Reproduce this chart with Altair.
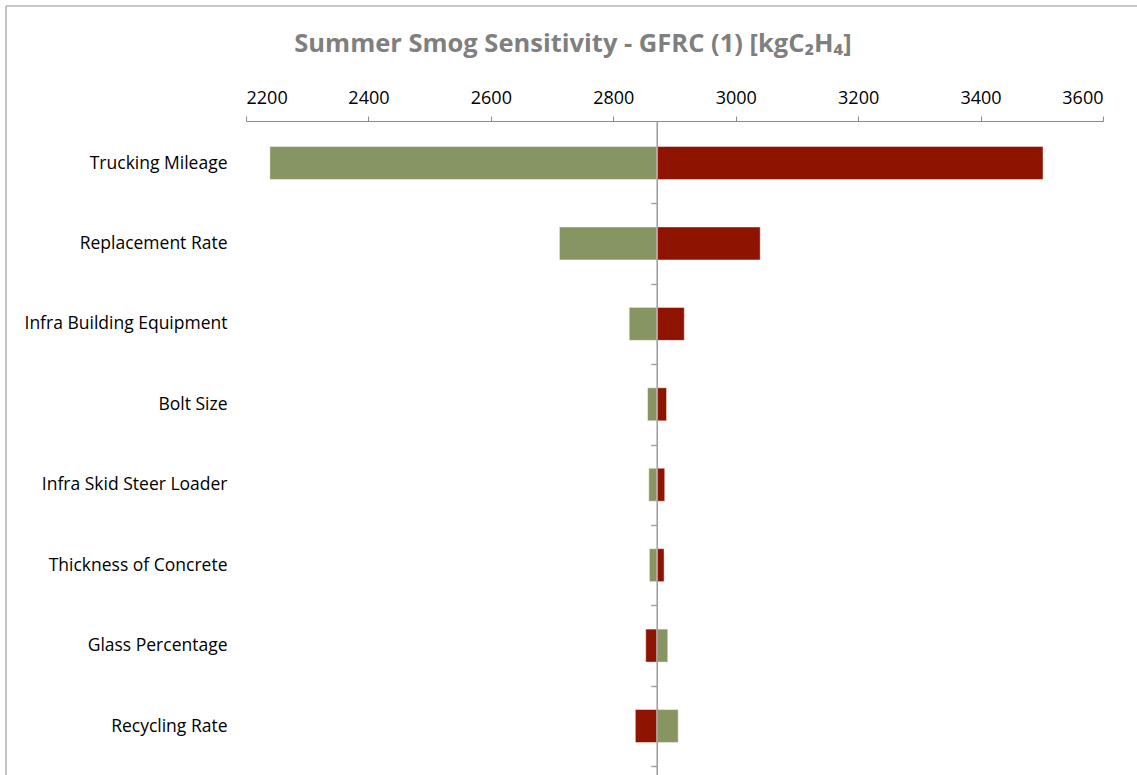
import altair as alt
import pandas as pd

# Sensitivity inputs, top to bottom
categories = [
    "Trucking Mileage",
    "Replacement Rate",
    "Infra Building Equipment",
    "Bolt Size ",
    "Infra Skid Steer Loader",
    "Thickness of Concrete",
    "Glass Percentage",
    "Recycling Rate",
]
# Baseline result [kgC2H4]
base_value = 2871
# Result for each input under the two scenarios
green_values = [2239, 2712, 2826, 2856, 2858, 2859, 2889, 2906]
red_values = [3502, 3040, 2916, 2887, 2884, 2883, 2853, 2836]
x_ticks = [2200, 2400, 2600, 2800, 3000, 3200, 3400, 3600]
title_text = "Summer Smog Sensitivity - GFRC (1) [kgC\u2082H\u2084]"

GREEN = "#879562"
RED = "#8E1300"
AXIS_GREY = "#9f9f9f"

rows = []
for cat, g, r in zip(categories, green_values, red_values):
    rows.append({"category": cat, "scenario": "green", "value": g, "base": base_value})
    rows.append({"category": cat, "scenario": "red", "value": r, "base": base_value})
df = pd.DataFrame(rows)

plot_w = 857
plot_h = 654
pad_inner = 0.59
pad_outer = 0.3607
x_min, x_max = x_ticks[0], x_ticks[-1]
# shift the category axis so that it sits on the baseline value
axis_shift = -(base_value - x_min) / (x_max - x_min) * plot_w
band_step = plot_h / (len(categories) - pad_inner + 2 * pad_outer)

x_enc = alt.X(
    "value:Q",
    scale=alt.Scale(domain=[x_min, x_max], nice=False, zero=False),
    axis=alt.Axis(
        orient="top",
        values=x_ticks,
        format="d",
        grid=False,
        title=None,
        domainColor="#8c8c8c",
        domainWidth=1,
        tickColor="#8c8c8c",
        tickSize=5,
        labelFont="Open Sans",
        labelFontSize=18,
        labelColor="#000000",
        labelPadding=9,
    ),
)

bars = alt.Chart(df).mark_bar(
    stroke="#ffffff", strokeWidth=1, strokeOpacity=0.45
).encode(
    x=x_enc,
    x2="base:Q",
    y=alt.Y(
        "category:N",
        sort=categories,
        scale=alt.Scale(paddingInner=pad_inner, paddingOuter=pad_outer, align=0.44),
        axis=alt.Axis(
            orient="left",
            offset=axis_shift,
            title=None,
            grid=False,
            domain=True,
            domainColor=AXIS_GREY,
            domainWidth=1.6,
            ticks=True,
            tickOffset=band_step / 2,
            labelOffset=-band_step / 2,
            tickColor=AXIS_GREY,
            tickWidth=1.4,
            tickSize=6,
            labelFont="Open Sans",
            labelFontSize=17.5,
            labelColor="#000000",
            labelLimit=400,
            labelPadding=-axis_shift + 13,
            zindex=1,
        ),
    ),
    color=alt.Color(
        "scenario:N",
        scale=alt.Scale(domain=["green", "red"], range=[GREEN, RED]),
        legend=None,
    ),
)

one_row = pd.DataFrame({"k": [0]})

# chart title with subscripted formula
title = alt.Chart(one_row).mark_text(
    font="Open Sans",
    fontSize=25.5,
    fontWeight="bold",
    color="#7f7f7f",
    align="center",
    baseline="middle",
).encode(
    x=alt.value(573 - 246),
    y=alt.value(44 - 121),
    text=alt.value(title_text),
)

# outer frame of the chart (left and top edges)
frame_left = alt.Chart(one_row).mark_rule(color="#b4b4b4", strokeWidth=1.6).encode(
    x=alt.value(-240), y=alt.value(-115), y2=alt.value(plot_h + 10)
)
frame_top = alt.Chart(one_row).mark_rule(color="#b4b4b4", strokeWidth=1.6).encode(
    x=alt.value(-240), x2=alt.value(plot_w + 60), y=alt.value(-115)
)

chart = (
    alt.layer(bars, title, frame_left, frame_top)
    .properties(
        width=plot_w,
        height=plot_h,
        background="#ffffff",
        autosize=alt.AutoSizeParams(type="none"),
        padding={"left": 246, "top": 121, "right": 34, "bottom": 0},
    )
    .configure_view(strokeWidth=0, stroke="transparent")
    .configure_axis(grid=False)
)

chart.save("out.html", embed_options={"renderer": "svg", "actions": False})
